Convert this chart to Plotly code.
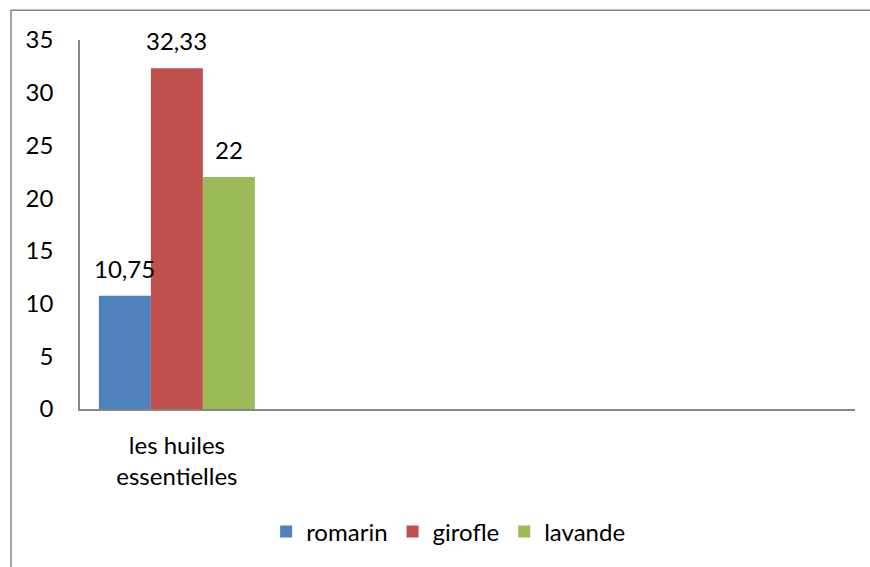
import plotly.graph_objects as go

categories = ["les huiles<br>essentielles"]
series_names = ["romarin", "girofle", "lavande"]
values = {
    "romarin": [10.75],
    "girofle": [32.33],
    "lavande": [22],
}
colors = {"romarin": "#4F81BD", "girofle": "#C0504D", "lavande": "#9BBB59"}
y_ticks = [0, 5, 10, 15, 20, 25, 30, 35]

FONT = "Lato"
FS = 24
BARGAP = 0.195
n = len(series_names)
bw = (1 - BARGAP) / n

fig = go.Figure()
annotations = []
for i, name in enumerate(series_names):
    xs = list(range(len(categories)))
    fig.add_trace(go.Bar(
        x=xs,
        y=values[name],
        name=name,
        marker=dict(color=colors[name], line=dict(width=0)),
    ))
    for xi, v in zip(xs, values[name]):
        annotations.append(dict(
            x=xi + (i - (n - 1) / 2) * bw, y=v, xref="x", yref="y",
            text=f"{v:g}".replace(".", ","), showarrow=False,
            yanchor="bottom", yshift=11,
            font=dict(family=FONT, size=FS, color="#000000"),
        ))

fig.update_layout(
    width=870, height=567,
    margin=dict(l=80, r=15, t=40, b=155),
    paper_bgcolor="white", plot_bgcolor="white",
    barmode="group", bargap=BARGAP, bargroupgap=0,
    separators=", ",
    font=dict(family=FONT, size=FS, color="#000000"),
    showlegend=True,
    legend=dict(orientation="h", x=0.475, xanchor="center", y=-0.333, yanchor="middle",
                font=dict(family=FONT, size=FS), traceorder="normal"),
    xaxis=dict(range=[-0.5, 3.5], tickvals=list(range(len(categories))), ticktext=categories,
               showline=True, linecolor="#868686", linewidth=1.5, showgrid=False,
               zeroline=False, ticks="", ticklabelstandoff=14),
    yaxis=dict(range=[0, 35], tickvals=y_ticks, showline=True, linecolor="#868686",
               linewidth=1.5, showgrid=False, zeroline=False, ticks="", ticklabelstandoff=20),
    annotations=annotations,
    shapes=[dict(type="rect", xref="paper", yref="paper",
                 x0=(11 - 80) / 775, x1=(880 - 80) / 775,
                 y0=(412 - 580) / 372, y1=(412 - 10) / 372,
                 line=dict(color="#868686", width=1.5), fillcolor="rgba(0,0,0,0)", layer="below")],
)
fig.write_html("out.html", config={"displayModeBar": False},
               post_script="document.body.style.margin='0px';")
